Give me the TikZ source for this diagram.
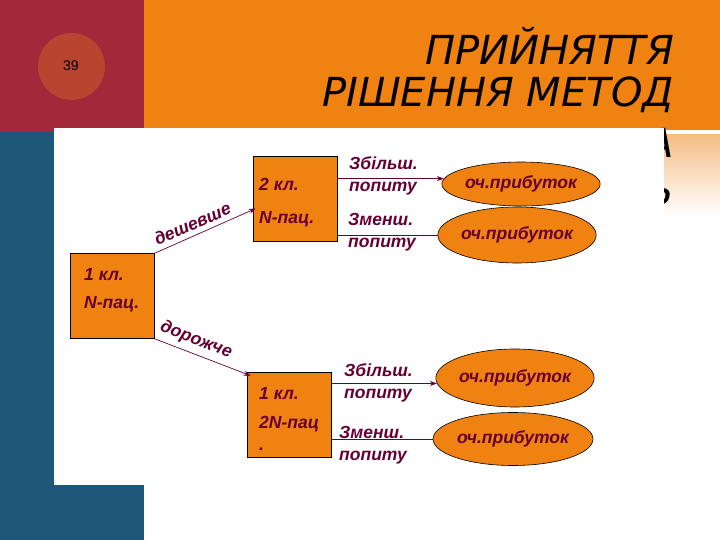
\documentclass[tikz,border=0pt]{standalone}
\usepackage{fontspec}
\setmainfont{Liberation Sans}
\newfontfamily\titlefont{DejaVu Sans}
\usetikzlibrary{arrows.meta,shapes.geometric}
\definecolor{slidecrimson}{HTML}{A3283A}
\definecolor{slideblue}{HTML}{1D587A}
\definecolor{slideorange}{HTML}{EF8210}
\definecolor{slidedisc}{HTML}{B9442F}
\definecolor{slidepeach}{HTML}{F5BE85}
\definecolor{treeink}{HTML}{660033}

\begin{document}
\begin{tikzpicture}[
  x=1pt,
  y=-1pt,
  every node/.style={font=\fontsize{17.5}{22}\selectfont\bfseries\itshape, treeink, inner sep=0pt},
  title/.style={font=\titlefont\fontsize{40}{46}\selectfont\itshape, black},
  kl/.style={draw=black, line width=0.6pt, fill=slideorange, minimum width=84, minimum height=85},
  outcome/.style={ellipse, draw=black, line width=0.6pt, fill=slideorange},
  kltext/.style={anchor=west},
  demand/.style={anchor=west, align=left},
  branch/.style={treeink, line width=0.7pt, -{Stealth[length=7pt, width=5pt]}},
  plain/.style={treeink, line width=0.7pt}
]
  \useasboundingbox (0,0) rectangle (720,540);

  % ---- slide background ------------------------------------------------
  \fill[slideorange] (144,0) rectangle (720,130);
  \fill[slidecrimson] (0,0) rectangle (144,132);
  \fill[slideblue] (0,132) rectangle (144,540);
  \shade[top color=slidepeach, bottom color=white] (664,135) rectangle (720,215);
  \fill[slidedisc] (71.5,66.5) circle (33.5);
  \node[font=\fontsize{14}{16}\selectfont, black] (num) at (71,66) {39};

  % ---- title -------------------------------------------------------------
  \node[title, anchor=east] (t1) at (674,46) {ПРИЙНЯТТЯ};
  \node[title, anchor=east] (t2) at (674,95) {РІШЕННЯ МЕТОД};
  \node[title, anchor=east] (t3) at (674,143) {А};
  \node[title, anchor=east] (t4) at (674,191) {Ь};

  % ---- content panel -----------------------------------------------------
  \fill[white] (54,128) rectangle (664,485);

  % ---- decision boxes ----------------------------------------------------
  \node[kl] (b1) at (112.5,296) {};
  \node[kltext] (b1a) at (84,275) {1 кл.};
  \node[kltext] (b1b) at (84,304) {N-пац.};

  \node[kl] (b2) at (295,198.5) {};
  \node[kltext] (b2a) at (259,184) {2 кл.};
  \node[kltext] (b2b) at (259,219) {N-пац.};

  \node[kl] (b3) at (289,414.5) {};
  \node[kltext] (b3a) at (259,394) {1 кл.};
  \node[kltext] (b3b) at (259,424) {2N-пац};
  \node[kltext] (b3c) at (259,449) {.};

  % ---- outcomes ----------------------------------------------------------
  \node[outcome, minimum width=152, minimum height=44] (e1) at (521,184) {оч.прибуток};
  \node[outcome, minimum width=153, minimum height=56] (e2) at (517,235) {оч.прибуток};
  \node[outcome, minimum width=157, minimum height=58] (e3) at (515,378) {оч.прибуток};
  \node[outcome, minimum width=160, minimum height=53] (e4) at (513,439) {оч.прибуток};

  % ---- price branches ----------------------------------------------------
  \draw[branch] (b1.north east) -- node[sloped, above=5pt, pos=0.42] (cheap) {дешевше}
    ([xshift=3pt, yshift=-10pt]b2.west);
  \draw[branch] (b1.south east) -- node[sloped, above=5pt, pos=0.38] (dear) {дорожче}
    ([xshift=4pt, yshift=-4pt]b3.north west);

  % ---- demand branches ---------------------------------------------------
  \draw[branch] (b2.east |- e1.176) -- (e1.176);
  \draw[plain] (b2.east |- e2.west) -- (e2.west);
  \node[demand] (d1) at (349,176) {Збільш.\\попиту};
  \node[demand] (d2) at (348,232) {Зменш.\\попиту};

  \draw[branch] (b3.east |- e3.184) -- (e3.184);
  \draw[plain] (b3.east |- e4.west) -- (e4.west);
  \node[demand] (d3) at (344,383) {Збільш.\\попиту};
  \node[demand] (d4) at (339,445) {Зменш.\\попиту};
\end{tikzpicture}
\end{document}
